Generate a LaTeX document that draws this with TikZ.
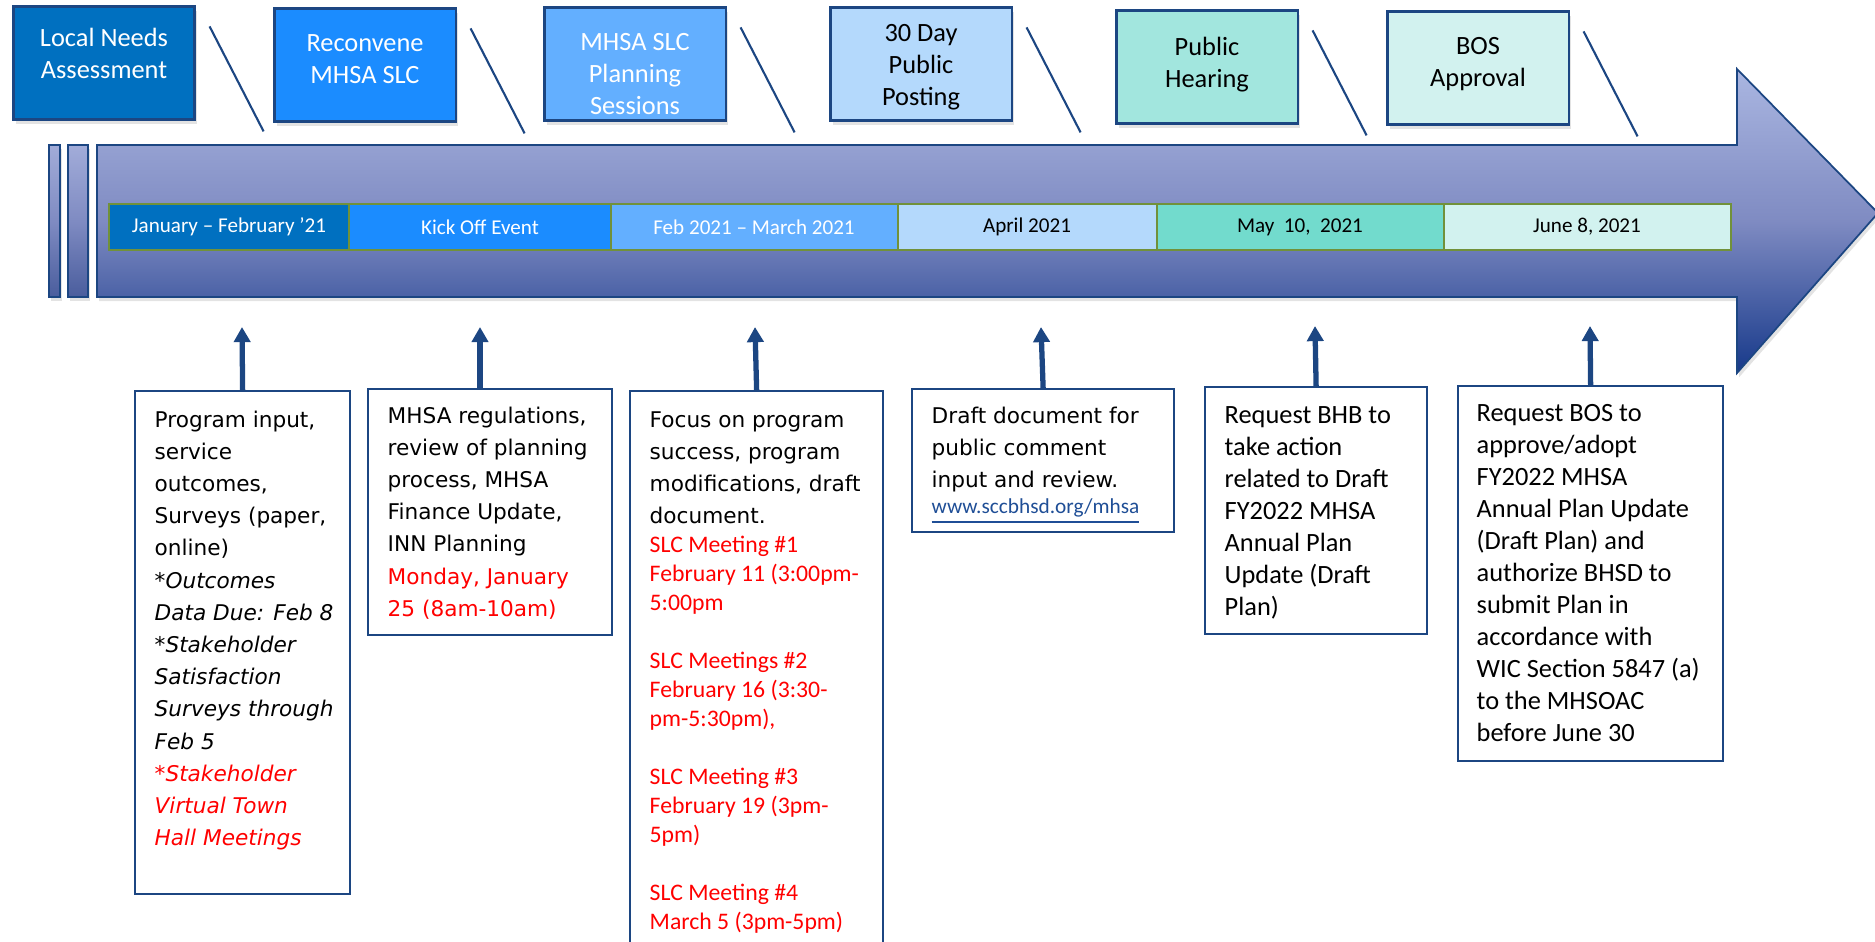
\documentclass[tikz,border=0pt]{standalone}
\usepackage{fontspec}
\setmainfont{Carlito}
\newfontfamily\verdfont{DejaVu Sans}
\usetikzlibrary{arrows.meta,shadows}

\definecolor{lnablue}{HTML}{0070C0}
\definecolor{rmsblue}{HTML}{1B8CFF}
\definecolor{pslblue}{HTML}{63AFFF}
\definecolor{pstblue}{HTML}{B4D9FC}
\definecolor{phrteal}{HTML}{A2E6DE}
\definecolor{mayteal}{HTML}{72DBCD}
\definecolor{bosteal}{HTML}{D2F2EF}
\definecolor{navy}{HTML}{1C4682}
\definecolor{bandgreen}{HTML}{71913A}
\definecolor{arrowtop}{HTML}{AAB6E1}
\definecolor{arrowmid}{HTML}{7F8BC2}
\definecolor{arrowbot}{HTML}{17398A}
\definecolor{bartop}{HTML}{A2ACD9}
\definecolor{barbot}{HTML}{4A5D9D}
\definecolor{slcred}{HTML}{FF0000}
\definecolor{urlblue}{HTML}{1F4E96}

\newcommand{\topsize}{\fontsize{7.5}{9.1}\selectfont}
\newcommand{\notesize}{\verdfont\fontsize{6.15}{9.16}\selectfont}
\newcommand{\slcsize}{\rmfamily\fontsize{6.75}{8.25}\selectfont}
\newcommand{\bandsize}{\fontsize{6.0}{7.2}\selectfont}
\newcommand{\urlsize}{\rmfamily\fontsize{6.06}{7.4}\selectfont}

\tikzset{
  softshadow/.style={drop shadow={opacity=0.22, shadow xshift=0.6pt, shadow yshift=-1.2pt}},
  topbox/.style={draw=navy, line width=0.6pt, minimum width=1.81cm, minimum height=1.13cm,
    inner sep=0pt, softshadow},
  toplbl/.style={inner sep=0pt, align=center, font=\topsize},
  notebox/.style={draw=navy, line width=0.6pt, anchor=north west, inner sep=0pt},
  notetext/.style={anchor=base west, inner sep=0pt, align=flush left},
  seg/.style={draw=bandgreen, line width=0.8pt},
  bandlbl/.style={font=\bandsize, inner sep=0pt},
  slash/.style={draw=navy, line width=0.6pt},
  uparrow/.style={draw=navy, line width=1.5pt, -{Triangle[length=4.3pt,width=4.6pt]}}
}

\begin{document}
\begin{tikzpicture}[x=0.01cm, y=-0.01cm]
\useasboundingbox (0,0) rectangle (1875,941);
\clip (0,0) rectangle (1875,941);

% Thin bars in front of the timeline
\path [draw=navy, line width=0.5pt, top color=bartop, bottom color=barbot, middle color=arrowmid, softshadow] (49,145) rectangle (60,297);
\path [draw=navy, line width=0.5pt, top color=bartop, bottom color=barbot, middle color=arrowmid, softshadow] (68,145) rectangle (88,297);

% Timeline arrow
\path [draw=navy, line width=0.5pt, top color=arrowtop, bottom color=arrowbot, middle color=arrowmid, softshadow]
  (97,145) -- (1737,145) -- (1737,69) -- (1878,213) -- (1737,373) -- (1737,297) -- (97,297) -- cycle;

% Date band
\draw [seg, fill=lnablue] (109,204) rectangle (349,250);
\draw [seg, fill=rmsblue] (349,204) rectangle (611,250);
\draw [seg, fill=pslblue] (611,204) rectangle (898,250);
\draw [seg, fill=pstblue] (898,204) rectangle (1157,250);
\draw [seg, fill=mayteal] (1157,204) rectangle (1444,250);
\draw [seg, fill=bosteal] (1444,204) rectangle (1731,250);
\node [bandlbl, text=white] (jan) at (229,227) {January – February ’21};
\node [bandlbl, text=white] (kick) at (480,227) {Kick Off Event};
\node [bandlbl, text=white] (feb) at (754,227) {Feb 2021 – March 2021};
\node [bandlbl] (apr) at (1027,227) {April 2021};
\node [bandlbl] (may) at (1300,227) {May\ \ 10,\ \ 2021};
\node [bandlbl] (jun) at (1587,227) {June 8, 2021};

% Phase boxes on top
\node [topbox, fill=lnablue] (lna) at (104,63) {};
\node [topbox, fill=rmsblue] (rms) at (365,65) {};
\node [topbox, fill=pslblue] (psl) at (635,64) {};
\node [topbox, fill=pstblue] (pst) at (921,64) {};
\node [topbox, fill=phrteal] (phr) at (1207,67) {};
\node [topbox, fill=bosteal] (bos) at (1478,68) {};
\node [toplbl, text=white] (lnatxt) at ([shift={(0,-10)}]lna.center) {Local Needs\\Assessment};
\node [toplbl, text=white] (rmstxt) at ([shift={(0,-6)}]rms.center) {Reconvene\\MHSA SLC};
\node [toplbl, text=white] (psltxt) at ([shift={(0,10)}]psl.center) {MHSA SLC\\Planning\\Sessions};
\node [toplbl] (psttxt) at ([shift={(0,3)}]pst.center) {30 Day\\Public\\Posting};
\node [toplbl] (phrtxt) at ([shift={(0,-2)}]phr.center) {Public\\Hearing};
\node [toplbl] (bostxt) at ([shift={(0,-4)}]bos.center) {BOS\\Approval};

% slashes
\draw [slash] ([shift={(14,21)}]lna.north east) -- ++(54,105);
\draw [slash] ([shift={(14,21)}]rms.north east) -- ++(54,105);
\draw [slash] ([shift={(14,21)}]psl.north east) -- ++(54,105);
\draw [slash] ([shift={(14,21)}]pst.north east) -- ++(54,105);
\draw [slash] ([shift={(14,21)}]phr.north east) -- ++(54,105);
\draw [slash] ([shift={(14,21)}]bos.north east) -- ++(54,105);

% Note boxes below
\node [notebox, minimum width=2.15cm, minimum height=5.03cm] (need) at (134,390) {};
\node [notebox, minimum width=2.44cm, minimum height=2.46cm] (reg) at (367,388) {};
\node [notebox, minimum width=2.53cm, minimum height=6.00cm] (slc) at (629,390) {};
\node [notebox, minimum width=2.62cm, minimum height=1.43cm] (draft) at (911,388) {};
\node [notebox, minimum width=2.22cm, minimum height=2.47cm] (bhb) at (1204,386) {};
\node [notebox, minimum width=2.65cm, minimum height=3.75cm] (bosreq) at (1457,385) {};

% arrow tips
\coordinate (tip1) at (242,327);
\coordinate (tip2) at (480,327);
\coordinate (tip3) at (755,327);
\coordinate (tip4) at (1041,327);
\coordinate (tip5) at (1315,326);
\coordinate (tip6) at (1590,326);
\draw [uparrow] (need.north) -- (tip1);
\draw [uparrow] (reg.north -| tip2) -- (tip2);
\draw [uparrow] (slc.north) -- (tip3);
\draw [uparrow] (draft.north) -- (tip4);
\draw [uparrow] (bhb.north) -- (tip5);
\draw [uparrow] (bosreq.north) -- (tip6);

% Note texts
\node [notetext, text width=2.3cm, font=\notesize] (needtxt) at (154,427) {Program input,\\ service\\ outcomes,\\ Surveys (paper,\\ online)\\ \itshape *Outcomes\\ Data Due: Feb 8\\ \mbox{*}Stakeholder\\ Satisfaction\\ Surveys through\\ Feb 5\\ \color{slcred}*Stakeholder\\ Virtual Town\\ Hall Meetings};
\node [notetext, text width=2.5cm, font=\notesize] (regtxt) at (387,423) {MHSA regulations,\\ review of planning\\ process, MHSA\\ Finance Update,\\ INN Planning\\ \color{slcred}Monday, January\\ 25 (8am-10am)};
\node [notetext, text width=2.6cm, font=\notesize] (slctxt) at (649,427) {Focus on program\\ success, program\\ modifications, draft\\ document.\par
  {\slcsize\color{slcred}SLC Meeting \#1\\ February 11 (3:00pm-\\ 5:00pm\\[8.25pt] SLC Meetings \#2\\ February 16 (3:30-\\ pm-5:30pm),\\[8.25pt] SLC Meeting \#3\\ February 19 (3pm-\\ 5pm)\\[8.25pt] SLC Meeting \#4\\ March 5 (3pm-5pm)\par}};
\node [notetext, text width=2.6cm, font=\notesize] (drafttxt) at (931,423) {Draft document for\\ public comment\\ input and review.\par
  {\urlsize\color{urlblue}\underline{www.sccbhsd.org/mhsa}\par}};
\node [notetext, text width=2.3cm, font=\topsize] (bhbtxt) at (1224,423) {Request BHB to\\ take action\\ related to Draft\\ FY2022 MHSA\\ Annual Plan\\ Update (Draft\\ Plan)};
\node [notetext, text width=2.6cm, font=\topsize] (bostxt) at (1476,421) {Request BOS to\\ approve/adopt\\ FY2022 MHSA\\ Annual Plan Update\\ (Draft Plan) and\\ authorize BHSD to\\ submit Plan in\\ accordance with\\ WIC Section 5847 (a)\\ to the MHSOAC\\ before June 30};
\end{tikzpicture}
\end{document}
